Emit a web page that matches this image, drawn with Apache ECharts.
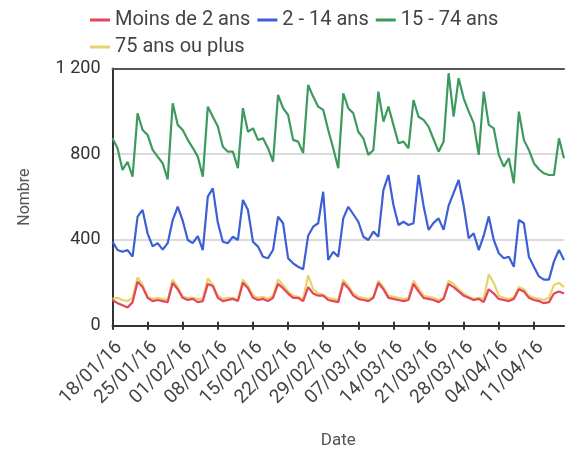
<!DOCTYPE html>
<html>
<head>
<meta charset="utf-8">
<script src="https://cdn.jsdelivr.net/npm/echarts@6/dist/echarts.min.js"></script>
<style>
html,body{margin:0;padding:0;background:#fff;}
#chart{width:570px;height:451px;}
</style>
</head>
<body>
<div id="chart"></div>
<script>
// Daily dates 18/01/16 .. 17/04/16
const startDate = [2016, 0, 18];
const dayCount = 91;
const seriesNames = ["Moins de 2 ans", "2 - 14 ans", "15 - 74 ans", "75 ans ou plus"];
const yTicks = [0, 400, 800, 1200];

const moins2 = [120,105,95,85,110,205,180,130,115,120,115,110,200,170,130,120,125,110,115,195,185,130,115,120,125,115,200,175,130,120,125,115,130,195,175,150,130,130,115,180,150,140,140,120,115,110,200,175,140,125,120,115,130,200,170,130,125,120,115,120,195,160,130,125,120,110,125,195,180,160,140,130,120,125,110,170,150,125,120,115,125,170,160,130,120,115,105,110,150,160,150];
const age2_14 = [392,353,345,353,322,509,540,430,370,385,355,385,493,555,490,400,385,418,353,602,641,480,392,385,415,400,587,540,392,369,322,315,353,509,478,315,291,275,263,420,462,478,625,307,345,322,501,555,520,485,415,400,439,415,633,703,563,470,485,470,478,703,560,447,480,501,447,560,620,680,560,408,431,353,420,509,400,338,315,322,275,493,478,322,275,230,215,215,300,353,307];
const age15_74 = [874,828,727,765,695,991,913,890,820,789,758,683,1038,937,913,867,830,789,695,1022,975,929,835,812,812,735,1015,905,921,867,874,828,765,1077,1015,983,867,859,805,1123,1069,1022,1007,913,828,735,1084,1015,991,905,874,797,820,1092,952,1022,937,851,859,828,1053,975,960,929,870,812,859,1178,975,1155,1061,1000,945,797,1092,937,921,797,742,781,665,999,867,820,758,730,711,703,703,874,781];
const age75 = [125,130,120,115,130,225,190,135,125,130,125,120,215,180,135,130,130,125,125,220,190,140,125,130,130,120,215,185,140,130,135,125,140,215,190,160,140,135,125,235,170,150,145,130,125,120,215,185,150,135,130,125,135,210,180,140,135,130,125,130,210,175,140,135,130,120,130,210,195,170,150,135,125,130,125,240,200,140,130,125,130,180,170,140,130,125,120,130,190,200,180];

function pad(n){return (n<10?'0':'')+n;}
const categories = [];
for (let i = 0; i < dayCount; i++) {
  const d = new Date(startDate[0], startDate[1], startDate[2] + i);
  categories.push(pad(d.getDate()) + '/' + pad(d.getMonth()+1) + '/' + String(d.getFullYear()).slice(2));
}

const colors = ['#e5445a', '#3c5fd6', '#3c9a5c', '#e8d36a'];
const dataList = [moins2, age2_14, age15_74, age75];
const font = 'Roboto, "Liberation Sans", Arial, sans-serif';

const chart = echarts.init(document.getElementById('chart'), null, {renderer: 'canvas'});
chart.setOption({
  animation: false,
  textStyle: {fontFamily: font},
  color: colors,
  legend: {
    data: seriesNames,
    left: 85, top: 5, width: 440,
    itemWidth: 20, itemHeight: 3, itemGap: 7,
    icon: 'rect',
    textStyle: {fontSize: 20, color: '#444', fontFamily: font}
  },
  grid: {left: 112.5, right: 6, top: 68.5, bottom: 125.3, containLabel: false, outerBoundsMode: 'none'},
  xAxis: [{
    type: 'category',
    data: categories,
    boundaryGap: false,
    name: 'Date',
    nameLocation: 'middle',
    nameGap: 107,
    nameTextStyle: {fontSize: 17, color: '#555'},
    axisLine: {lineStyle: {color: '#333', width: 2}},
    axisTick: {show: true, interval: 6, length: 4, inside: false, lineStyle: {color: '#333', width: 2}},
    axisLabel: {interval: 6, rotate: 45, fontSize: 19, color: '#444', margin: 12, verticalAlign: 'top'},
    splitLine: {show: false}
  }, {
    type: 'category',
    position: 'top',
    data: categories,
    boundaryGap: false,
    axisLine: {lineStyle: {color: '#555', width: 2}},
    axisTick: {show: false},
    axisLabel: {show: false}
  }, {
    type: 'category',
    position: 'bottom',
    data: categories,
    boundaryGap: false,
    axisLine: {show: false},
    axisTick: {show: true, interval: 6, length: 4, inside: true, lineStyle: {color: '#333', width: 2}},
    axisLabel: {show: false}
  }],
  yAxis: {
    type: 'value',
    min: yTicks[0], max: yTicks[yTicks.length-1], interval: 400,
    name: 'Nombre',
    nameLocation: 'middle',
    nameGap: 80,
    nameTextStyle: {fontSize: 16, color: '#555'},
    axisLine: {show: true, lineStyle: {color: '#333', width: 2}},
    axisTick: {show: false},
    axisLabel: {fontSize: 18, color: '#333', margin: 12,
      formatter: v => v >= 1000 ? String(v).replace(/\B(?=(\d{3})+(?!\d))/g, ' ') : String(v)},
    splitLine: {show: true, lineStyle: {color: '#cfcfcf', width: 1.5}}
  },
  series: seriesNames.map((n, i) => ({
    name: n,
    type: 'line',
    data: dataList[i],
    showSymbol: false,
    symbol: 'none',
    lineStyle: {width: 2.2, color: colors[i]},
    itemStyle: {color: colors[i]},
    z: i === 0 ? 3 : 2
  }))
});
</script>
</body>
</html>
